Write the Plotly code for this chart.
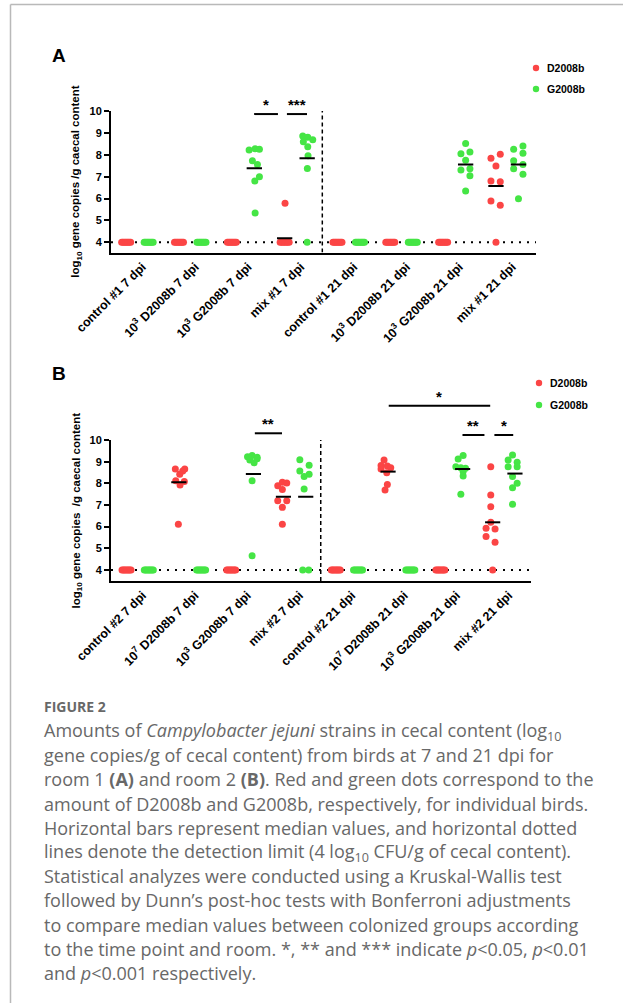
import plotly.graph_objects as go

# ---------------- data ----------------
LABELS_A = ["control #1 7 dpi", "10<sup>3</sup> D2008b 7 dpi", "10<sup>3</sup> G2008b 7 dpi", "mix #1 7 dpi",
            "control #1 21 dpi", "10<sup>3</sup> D2008b 21 dpi", "10<sup>3</sup> G2008b 21 dpi", "mix #1 21 dpi"]
LABELS_B = ["control #2 7 dpi", "10<sup>7</sup> D2008b 7 dpi", "10<sup>3</sup> G2008b 7 dpi", "mix #2 7 dpi",
            "control #2 21 dpi", "10<sup>7</sup> D2008b 21 dpi", "10<sup>3</sup> G2008b 21 dpi", "mix #2 21 dpi"]
STRAINS = ["D2008b", "G2008b"]
LOD = 4
Y_TICKS = [4, 5, 6, 7, 8, 9, 10]

# log10 gene copies / g caecal content, one list per group (room 1)
D2008B_A = [
    [4, 4, 4, 4, 4, 4, 4, 4],
    [4, 4, 4, 4, 4, 4, 4, 4],
    [4, 4, 4, 4, 4, 4, 4, 4],
    [5.78, 4, 4, 4, 4, 4, 4, 4],
    [4, 4, 4, 4, 4, 4, 4, 4],
    [4, 4, 4, 4, 4, 4, 4, 4],
    [4, 4, 4, 4, 4, 4, 4, 4],
    [7.84, 8.02, 7.49, 6.80, 6.77, 5.89, 5.69, 4],
]
G2008B_A = [
    [4, 4, 4, 4, 4, 4, 4, 4],
    [4, 4, 4, 4, 4, 4, 4, 4],
    [8.22, 8.27, 8.25, 7.73, 7.55, 7.00, 6.80, 5.34],
    [8.86, 8.80, 8.69, 8.60, 8.37, 7.96, 7.37, 4],
    [4, 4, 4, 4, 4, 4, 4, 4],
    [4, 4, 4, 4, 4, 4, 4, 4],
    [8.52, 8.05, 8.13, 7.75, 7.30, 7.36, 7.04, 6.34],
    [8.25, 8.40, 8.07, 7.73, 7.55, 7.36, 7.11, 5.99],
]
MED_D_A = [None, None, None, 4.18, None, None, None, 6.57]
MED_G_A = [None, None, 7.38, 7.84, None, None, 7.56, 7.55]

# room 2
D2008B_B = [
    [4, 4, 4, 4, 4, 4, 4, 4],
    [8.66, 8.66, 8.57, 8.42, 8.12, 8.08, 7.92, 6.11],
    [4, 4, 4, 4, 4, 4, 4, 4],
    [7.89, 8.05, 8.02, 7.72, 7.20, 7.20, 6.89, 6.11],
    [4, 4, 4, 4, 4, 4, 4, 4],
    [9.08, 8.82, 8.80, 8.72, 8.66, 8.49, 7.95, 7.69],
    [4, 4, 4, 4, 4, 4, 4, 4],
    [8.77, 7.46, 6.92, 6.20, 5.92, 5.89, 5.54, 5.28, 4],
]
G2008B_B = [
    [4, 4, 4, 4, 4, 4, 4, 4],
    [4, 4, 4, 4, 4, 4, 4, 4],
    [9.23, 9.28, 9.20, 9.08, 8.95, 9.13, 8.12, 4.66],
    [9.09, 8.83, 8.57, 8.42, 8.31, 7.74, 4, 4],
    [4, 4, 4, 4, 4, 4, 4, 4],
    [4, 4, 4, 4, 4, 4, 4, 4],
    [9.12, 9.28, 8.77, 8.72, 8.69, 8.54, 8.34, 7.49],
    [9.31, 9.08, 8.97, 8.77, 8.77, 8.31, 8.00, 7.80, 7.03],
]
MED_D_B = [None, 8.05, None, 7.38, None, 8.54, None, 6.20]
MED_G_B = [None, None, 8.43, 7.38, None, None, 8.66, 8.45]

# significance: (label, from group position, to group position, bar level)
SIG_A = [("*", 2.21, 2.66, 9.86), ("***", 2.83, 3.21, 9.86)]
SIG_B = [("**", 2.24, 2.76, 10.31), ("*", 4.80, 6.74, 11.58),
         ("**", 6.21, 6.63, 10.23), ("*", 6.82, 7.18, 10.23)]

# ---------------- layout / styling (positions only) ----------------
# horizontal jitter (pixels) of the points above the detection limit, in list order
JIT_D_A = [[], [], [], [0.4], [], [], [], [-5, 4.3, 0, -5, 4.3, -5, 4.3]]
JIT_G_A = [[], [], [-5.2, 0.8, 5.1, -1.9, 3.1, 5.1, 0.5, 0.8],
           [-4.4, 0.6, 5.6, -3.8, 0.6, 0.9, 0.2], [], [],
           [0, -4.7, 4.3, 0, -4.7, 4.3, 4.3, 0],
           [-4.8, 4.5, 4.5, -4.8, 4.5, -4.8, 4.5, 0]]
JIT_D_B = [[], [-3.5, 5.9, 3.9, 0.9, -3.1, 5.5, 1.2, -0.5], [],
           [-5.7, -1.1, 3.3, -1.1, -5.7, 3.3, -1.1, -1.1], [],
           [-4, -7, -0.7, 2.7, -7, -1.3, -0.7, -3], [],
           [-1.9, -1.9, -1.9, -1.9, -6.6, 2.4, -6.6, 2.4]]
JIT_G_B = [[], [], [-5.9, -1.3, 3.7, -3.6, 0.7, 3.7, -1.3, -1.3],
           [-5.9, 3.4, -5.9, 3.4, -1.6, -1.6], [], [],
           [-4.5, 0.5, -6.8, -1.8, 2.9, 0.5, 0.5, -1.8],
           [-2.4, -6.8, 2.2, -6.8, 2.2, -2.4, 2.2, -2.4, -2.4]]

W, H = 623, 1003
RED = "#fb4545"
GREEN = "#45e545"
FONT = "Liberation Sans, Arial, sans-serif"
COL_OFF = 0.213      # half distance between the red and green column of a group
MED_HALF = 0.145


def pxx(x):
    return x / W


def pxy(y):
    return 1 - y / H


PANELS = [
    dict(letter="A", labels=LABELS_A, d=D2008B_A, g=G2008B_A, jd=JIT_D_A, jg=JIT_G_A,
         md=MED_D_A, mg=MED_G_A, sig=SIG_A, xa="x", ya="y",
         xdom=(111, 536), ydom=(111, 252.5), xr=(-0.5, 7.545), yr=(3.534, 10),
         letter_pos=(59, 55), leg=(536, 68, 89, 545),
         ytitle="log<sub>10</sub> gene copies /g caecal content"),
    dict(letter="B", labels=LABELS_B, d=D2008B_B, g=G2008B_B, jd=JIT_D_B, jg=JIT_G_B,
         md=MED_D_B, mg=MED_G_B, sig=SIG_B, xa="x2", ya="y2",
         xdom=(111, 531), ydom=(440, 581), xr=(-0.51, 7.52), yr=(3.49, 10),
         letter_pos=(58.5, 373.5), leg=(539, 383, 405, 548),
         ytitle="log<sub>10</sub> gene copies &nbsp;/g caecal content"),
]

fig = go.Figure()
shapes = []
annotations = []

for P in PANELS:
    ppu = (P["xdom"][1] - P["xdom"][0]) / (P["xr"][1] - P["xr"][0])
    y0, y1 = P["yr"]

    def ydomfrac(v, y0=y0, y1=y1):
        return (v - y0) / (y1 - y0)

    for series, jit, med, color, side in ((P["d"], P["jd"], P["md"], RED, -1),
                                          (P["g"], P["jg"], P["mg"], GREEN, 1)):
        xs, ys = [], []
        for gi, vals in enumerate(series):
            base = gi + side * COL_OFF
            n_lod = sum(1 for v in vals if v <= LOD)
            spread = min(4.5, 3.0 * (n_lod - 1)) if n_lod > 1 else 0.0
            k_lod, k_val = 0, 0
            for v in vals:
                if v <= LOD:
                    off = (-spread + 2 * spread * k_lod / (n_lod - 1)) if n_lod > 1 else 0.0
                    k_lod += 1
                else:
                    off = jit[gi][k_val]
                    k_val += 1
                xs.append(base + off / ppu)
                ys.append(v)
            if med[gi] is not None:
                shapes.append(dict(type="line", xref=P["xa"], yref=P["ya"],
                                   x0=base - MED_HALF, x1=base + MED_HALF,
                                   y0=med[gi], y1=med[gi],
                                   line=dict(color="black", width=2), layer="above"))
        fig.add_trace(go.Scatter(x=xs, y=ys, mode="markers", xaxis=P["xa"], yaxis=P["ya"],
                                 marker=dict(color=color, size=7, line=dict(width=0)),
                                 showlegend=False, hoverinfo="skip"))

    # detection limit (dotted) and separator between 7 dpi / 21 dpi (dashed)
    shapes.append(dict(type="line", xref=P["xa"], yref=P["ya"], x0=P["xr"][0], x1=P["xr"][1],
                       y0=LOD, y1=LOD, line=dict(color="black", width=2, dash="2px,6px"),
                       layer="below"))
    shapes.append(dict(type="line", xref=P["xa"], yref=P["ya"], x0=3.5, x1=3.5,
                       y0=y0, y1=y1, line=dict(color="black", width=1.5, dash="4px,3px"),
                       layer="below"))

    # significance bars and stars
    for lab, a, b, lvl in P["sig"]:
        shapes.append(dict(type="line", xref=P["xa"], yref=P["ya"] + " domain",
                           x0=a, x1=b, y0=ydomfrac(lvl), y1=ydomfrac(lvl),
                           line=dict(color="black", width=2)))
        annotations.append(dict(x=(a + b) / 2, y=ydomfrac(lvl), xref=P["xa"],
                                yref=P["ya"] + " domain",
                                text="<b>" + lab + "</b>", showarrow=False,
                                yanchor="bottom", yshift=-1,
                                font=dict(family=FONT, size=15, color="black")))

    # axes
    xkey = "xaxis" if P["xa"] == "x" else "xaxis2"
    ykey = "yaxis" if P["ya"] == "y" else "yaxis2"
    fig.update_layout(**{
        xkey: dict(domain=[pxx(P["xdom"][0]), pxx(P["xdom"][1])], range=list(P["xr"]),
                   anchor=P["ya"], tickmode="array", tickvals=list(range(len(P["labels"]))),
                   ticktext=P["labels"], tickangle=-45, ticks="", showline=True,
                   linecolor="black", linewidth=2, showgrid=False, zeroline=False,
                   ticklabelshift=5,
                   tickfont=dict(family=FONT, size=12.5, color="black", weight="bold"),
                   automargin=False, fixedrange=True),
        ykey: dict(domain=[pxy(P["ydom"][1]), pxy(P["ydom"][0])], range=list(P["yr"]),
                   anchor=P["xa"], tickmode="array", tickvals=Y_TICKS,
                   ticks="outside", ticklen=5, tickwidth=2, tickcolor="black",
                   showline=True, linecolor="black", linewidth=2, showgrid=False,
                   zeroline=False,
                   tickfont=dict(family=FONT, size=11, color="black", weight="bold"),
                   automargin=False, fixedrange=True),
    })

    # axis title
    annotations.append(dict(x=pxx(76), y=pxy((P["ydom"][0] + P["ydom"][1]) / 2),
                            xref="paper", yref="paper", text="<b>" + P["ytitle"] + "</b>",
                            textangle=-90, showarrow=False, xanchor="center", yanchor="middle",
                            font=dict(family=FONT, size=11.5, color="black")))
    # panel letter
    lx, ly = P["letter_pos"]
    annotations.append(dict(x=pxx(lx), y=pxy(ly), xref="paper", yref="paper",
                            text="<b>" + P["letter"] + "</b>", showarrow=False,
                            xanchor="center", yanchor="middle",
                            font=dict(family=FONT, size=19, color="black")))
    # legend (manual, to match the compact layout)
    mx, ry, gy, tx = P["leg"]
    for name, color, yy in ((STRAINS[0], RED, ry), (STRAINS[1], GREEN, gy)):
        r = 3.2
        shapes.append(dict(type="circle", xref="paper", yref="paper",
                           x0=pxx(mx - r), x1=pxx(mx + r), y0=pxy(yy + r), y1=pxy(yy - r),
                           fillcolor=color, line=dict(width=0)))
        annotations.append(dict(x=pxx(tx), y=pxy(yy), xref="paper", yref="paper",
                                text="<b>" + name + "</b>", showarrow=False,
                                xanchor="left", yanchor="middle",
                                font=dict(family=FONT, size=10.5, color="black")))

# page frame
FRAME = "#b9b9b9"
shapes.append(dict(type="line", xref="paper", yref="paper", x0=pxx(10.5), x1=1.0,
                   y0=pxy(4.5), y1=pxy(4.5), line=dict(color=FRAME, width=1.5)))
shapes.append(dict(type="line", xref="paper", yref="paper", x0=pxx(10.5), x1=pxx(10.5),
                   y0=0.0, y1=pxy(4.5), line=dict(color=FRAME, width=1.5)))

# caption
CAP_FONT = "Open Sans, Noto Sans, sans-serif"
CAP_COLOR = "#686868"
annotations.append(dict(x=pxx(42), y=pxy(706), xref="paper", yref="paper",
                        text="<b>FIGURE 2</b>", showarrow=False, xanchor="left",
                        yanchor="middle", font=dict(family=CAP_FONT, size=14, color=CAP_COLOR)))
CAPTION = [
    "Amounts of <i>Campylobacter jejuni</i> strains in cecal content (log<sub>10</sub>",
    "gene copies/g of cecal content) from birds at 7 and 21 dpi for",
    "room 1 <b>(A)</b> and room 2 <b>(B)</b>. Red and green dots correspond to the",
    "amount of D2008b and G2008b, respectively, for individual birds.",
    "Horizontal bars represent median values, and horizontal dotted",
    "lines denote the detection limit (4 log<sub>10</sub> CFU/g of cecal content).",
    "Statistical analyzes were conducted using a Kruskal-Wallis test",
    "followed by Dunn\u2019s post-hoc tests with Bonferroni adjustments",
    "to compare median values between colonized groups according",
    "to the time point and room. *, ** and *** indicate <i>p</i>&lt;0.05, <i>p</i>&lt;0.01",
    "and <i>p</i>&lt;0.001 respectively.",
]
for i, line in enumerate(CAPTION):
    annotations.append(dict(x=pxx(42), y=pxy(731 + 24.2 * i), xref="paper", yref="paper",
                            text=line, showarrow=False, xanchor="left", yanchor="middle",
                            font=dict(family=CAP_FONT, size=18, color=CAP_COLOR)))

fig.update_layout(width=W, height=H, margin=dict(l=0, r=0, t=0, b=0, pad=0),
                  paper_bgcolor="white", plot_bgcolor="white", showlegend=False,
                  shapes=shapes, annotations=annotations)

fig.write_html("out.html", config={"displayModeBar": False},
               post_script="document.body.style.margin='0';document.body.style.overflow='hidden';")
